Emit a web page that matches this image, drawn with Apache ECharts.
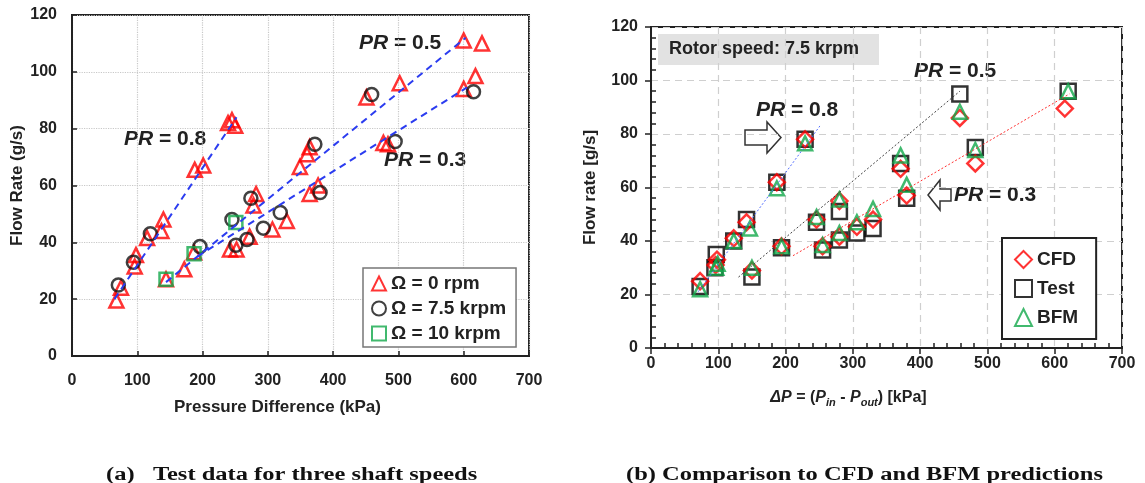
<!DOCTYPE html>
<html>
<head>
<meta charset="utf-8">
<script src="https://cdn.jsdelivr.net/npm/echarts@6/dist/echarts.min.js"></script>
<style>
  html, body { margin: 0; padding: 0; background: #fff; }
  #chart { width: 1145px; height: 483px; }
</style>
</head>
<body>
<div id="chart"></div>
<script>
// ---- (a) test data, [pressure difference kPa, flow rate g/s]
var rpm0 = [
    [68, 19.5], [75, 24], [96, 31.5], [98, 35.5], [115, 41.5], [137, 44], [140, 48],
    [188, 65.5], [201, 67], [239, 82], [245, 83], [250, 81],
    [144, 27], [172, 30.5], [187, 36.5], [278, 53], [282, 57], [349, 66.5], [360, 71],
    [364, 73.5], [451, 91], [502, 96], [600, 111], [628, 110],
    [242, 37.5], [252, 37.5], [272, 42], [307, 44.5], [329, 47.5], [364, 57], [377, 60],
    [477, 75], [484, 74.5], [600, 94], [618, 98.5]
];
var krpm75 = [
    [71, 25], [94, 33], [120, 43], [196, 38.5], [245, 48], [251, 39], [268, 41],
    [274, 55.5], [293, 45], [319, 50.5], [372, 74.5], [380, 57.5], [459, 92],
    [495, 75.5], [615, 93]
];
var krpm10 = [[144, 27], [187, 36], [251, 47]];
var fitPR08 = [[65, 20], [252, 84]];
var fitPR05 = [[144, 26], [603, 112]];
var fitPR03 = [[192, 35], [605, 94.5]];

// ---- (b) comparison at 7.5 krpm
var testPts = [
    [73, 23], [97, 35], [95, 30], [123, 40], [142, 48], [150, 26.5], [187, 62], [194, 37.5],
    [229, 78], [246, 47], [255, 36.6], [280, 51], [280, 40.4], [306, 43], [330, 44.7],
    [371, 69], [380, 56], [459, 95], [482, 75], [620, 96]
];
var cfdPts = [
    [73, 25], [98, 33], [96, 31], [123, 41], [142, 47], [150, 29], [187, 62], [194, 38],
    [229, 78], [246, 48], [255, 38], [280, 55], [280, 41.6], [306, 45.3], [330, 48],
    [371, 67], [380, 57], [459, 86], [482, 69], [615, 89.5]
];
var bfmPts = [
    [73, 22], [97, 30], [99, 31.5], [123, 40], [147, 44.7], [150, 30], [187, 59.7], [194, 38],
    [229, 76.5], [246, 49], [255, 38.5], [280, 55.5], [280, 43], [306, 47], [330, 52],
    [371, 72], [380, 61], [459, 88.3], [482, 74], [620, 96]
];
var linePR08 = [[70, 21], [251, 83]];
var linePR05 = [[130, 26.5], [459, 96]];
var linePR03 = [[211, 34.5], [622, 95]];

var xTicks = [0, 700, 100];
var yTicks = [0, 120, 20];

var FONT = 'Liberation Sans, Arial, sans-serif';
var SERIF = 'Liberation Serif, Times New Roman, serif';
var TXT = '#222';

var myChart = echarts.init(document.getElementById('chart'));

function hollow(color, w) {
    return { color: 'rgba(0,0,0,0)', borderColor: color, borderWidth: w };
}
// "PR = x" annotation, PR in italics
function prLabel(x, y, size, val) {
    return {
        type: 'text', left: x, top: y,
        style: {
            text: '{i|PR} = ' + val, fill: TXT,
            font: 'bold ' + size + 'px ' + FONT,
            rich: { i: { fontStyle: 'italic', fontWeight: 'bold', fontSize: size, fontFamily: FONT, fill: TXT } }
        }
    };
}
function caption(x, txt) {
    return {
        type: 'text', x: x, y: 466, scaleX: 1.36,
        style: { text: txt, fill: '#111', font: 'bold 18px ' + SERIF }
    };
}

var option = {
    animation: false,
    backgroundColor: '#fff',
    grid: [
        { left: 72, top: 15, width: 457, height: 341, show: true, borderColor: '#222', borderWidth: 2, backgroundColor: 'transparent' },
        { left: 651, top: 27, width: 471, height: 321, show: true, borderColor: '#222', borderWidth: 2, backgroundColor: 'transparent' }
    ],
    xAxis: [
        {
            gridIndex: 0, type: 'value', min: xTicks[0], max: xTicks[1], interval: xTicks[2],
            name: 'Pressure Difference (kPa)', nameLocation: 'middle', nameGap: 43,
            nameTextStyle: { fontFamily: FONT, fontWeight: 'bold', fontSize: 17, color: TXT, padding: [0, 46, 0, 0] },
            axisLine: { lineStyle: { color: '#222', width: 2 } },
            axisTick: { inside: true, length: 5, lineStyle: { color: '#222', width: 1.5 } },
            axisLabel: { margin: 17, fontFamily: FONT, fontWeight: 'bold', fontSize: 16, color: TXT },
            splitLine: { lineStyle: { color: '#c8c8c8', type: 'dotted', width: 1.2 } }
        },
        {
            gridIndex: 1, type: 'value', min: xTicks[0], max: xTicks[1], interval: xTicks[2], position: 'bottom',
            name: '{i|ΔP} = ({i|P}{s|in} - {i|P}{s|out}) [kPa]', nameLocation: 'middle', nameGap: 40,
            nameTextStyle: {
                fontFamily: FONT, fontWeight: 'bold', fontSize: 16, color: TXT, padding: [0, 76, 0, 0],
                rich: {
                    i: { fontStyle: 'italic', fontWeight: 'bold', fontSize: 16, fontFamily: FONT, color: TXT, lineHeight: 20 },
                    s: { fontStyle: 'italic', fontWeight: 'bold', fontSize: 11, fontFamily: FONT, color: TXT, lineHeight: 11, verticalAlign: 'bottom' }
                }
            },
            axisLine: { lineStyle: { color: '#222', width: 2 } },
            axisTick: { length: 6, lineStyle: { color: '#222', width: 1.5 } },
            axisLabel: { margin: 8, fontFamily: FONT, fontWeight: 'bold', fontSize: 16, color: TXT },
            splitLine: { lineStyle: { color: '#cfcfcf', type: [7, 5], width: 1.2 } }
        },
        {
            // minor ticks pointing inward
            gridIndex: 1, type: 'value', min: xTicks[0], max: xTicks[1], interval: xTicks[2], position: 'bottom',
            axisLine: { show: false }, axisLabel: { show: false }, splitLine: { show: false },
            axisTick: { show: false, inside: true },
            minorTick: { show: true, splitNumber: 5, length: 5, lineStyle: { color: '#222', width: 1.5 } }
        }
    ],
    yAxis: [
        {
            gridIndex: 0, type: 'value', min: yTicks[0], max: yTicks[1], interval: yTicks[2],
            name: 'Flow Rate (g/s)', nameLocation: 'middle', nameGap: 46,
            nameTextStyle: { fontFamily: FONT, fontWeight: 'bold', fontSize: 17, color: TXT },
            axisLine: { lineStyle: { color: '#222', width: 2 } },
            axisTick: { inside: true, length: 5, lineStyle: { color: '#222', width: 1.5 } },
            axisLabel: { margin: 15, fontFamily: FONT, fontWeight: 'bold', fontSize: 16, color: TXT },
            splitLine: { lineStyle: { color: '#c8c8c8', type: 'dotted', width: 1.2 } }
        },
        {
            gridIndex: 1, type: 'value', min: yTicks[0], max: yTicks[1], interval: yTicks[2], position: 'left',
            name: 'Flow rate [g/s]', nameLocation: 'middle', nameGap: 52,
            nameTextStyle: { fontFamily: FONT, fontWeight: 'bold', fontSize: 17, color: TXT },
            axisLine: { lineStyle: { color: '#222', width: 2 } },
            axisTick: { length: 6, lineStyle: { color: '#222', width: 1.5 } },
            axisLabel: { margin: 13, fontFamily: FONT, fontWeight: 'bold', fontSize: 16, color: TXT },
            splitLine: { lineStyle: { color: '#cfcfcf', type: [7, 5], width: 1.2 } }
        },
        {
            gridIndex: 1, type: 'value', min: yTicks[0], max: yTicks[1], interval: yTicks[2], position: 'left',
            axisLine: { show: false }, axisLabel: { show: false }, splitLine: { show: false },
            axisTick: { show: false, inside: true },
            minorTick: { show: true, splitNumber: 5, length: 5, lineStyle: { color: '#222', width: 1.5 } }
        }
    ],
    legend: [
        {
            data: ['Ω = 0 rpm', 'Ω = 7.5 krpm', 'Ω = 10 krpm'],
            orient: 'vertical', left: 363, top: 268, padding: [6, 10, 4, 8], itemGap: 6,
            itemWidth: 14, itemHeight: 14, itemTextGap: 6,
            borderColor: '#777', borderWidth: 1.5, backgroundColor: '#fff',
            textStyle: { fontFamily: FONT, fontWeight: 'bold', fontSize: 19, color: TXT }
        },
        {
            data: ['CFD', 'Test', 'BFM'],
            orient: 'vertical', left: 1002, top: 238, padding: [12, 18, 12, 12], itemGap: 10,
            itemWidth: 17, itemHeight: 17, itemTextGap: 14,
            borderColor: '#222', borderWidth: 2, backgroundColor: '#fff',
            textStyle: { fontFamily: FONT, fontWeight: 'bold', fontSize: 19, color: TXT }
        }
    ],
    series: [
        { type: 'line', xAxisIndex: 0, yAxisIndex: 0, data: fitPR08, symbol: 'none', silent: true, lineStyle: { color: '#2b3cf0', width: 2, type: [7, 5] } },
        { type: 'line', xAxisIndex: 0, yAxisIndex: 0, data: fitPR05, symbol: 'none', silent: true, lineStyle: { color: '#2b3cf0', width: 2, type: [7, 5] } },
        { type: 'line', xAxisIndex: 0, yAxisIndex: 0, data: fitPR03, symbol: 'none', silent: true, lineStyle: { color: '#2b3cf0', width: 2, type: [7, 5] } },
        { name: 'Ω = 0 rpm', type: 'scatter', xAxisIndex: 0, yAxisIndex: 0, data: rpm0, symbol: 'triangle', symbolSize: 14, itemStyle: hollow('#ff0000', 2.5) },
        { name: 'Ω = 7.5 krpm', type: 'scatter', xAxisIndex: 0, yAxisIndex: 0, data: krpm75, symbol: 'circle', symbolSize: 13, itemStyle: hollow('#111', 2.5) },
        { name: 'Ω = 10 krpm', type: 'scatter', xAxisIndex: 0, yAxisIndex: 0, data: krpm10, symbol: 'rect', symbolSize: 13, itemStyle: hollow('#12a84a', 2.5) },

        { type: 'line', xAxisIndex: 1, yAxisIndex: 1, data: linePR08, symbol: 'none', silent: true, lineStyle: { color: '#5570ff', width: 1, type: [2, 2] } },
        { type: 'line', xAxisIndex: 1, yAxisIndex: 1, data: linePR05, symbol: 'none', silent: true, lineStyle: { color: '#444', width: 1, type: [2, 2] } },
        { type: 'line', xAxisIndex: 1, yAxisIndex: 1, data: linePR03, symbol: 'none', silent: true, lineStyle: { color: '#ff3030', width: 1, type: [2, 2] } },
        { name: 'Test', type: 'scatter', xAxisIndex: 1, yAxisIndex: 1, data: testPts, symbol: 'rect', symbolSize: 15, itemStyle: hollow('#000', 2.5) },
        { name: 'CFD', type: 'scatter', xAxisIndex: 1, yAxisIndex: 1, data: cfdPts, symbol: 'diamond', symbolSize: 16, itemStyle: hollow('#ff0000', 2.5) },
        { name: 'BFM', type: 'scatter', xAxisIndex: 1, yAxisIndex: 1, data: bfmPts, symbol: 'triangle', symbolSize: 14, itemStyle: hollow('#12a84a', 2.5) }
    ],
    graphic: [
        prLabel(124, 129, 21, '0.8'),
        prLabel(359, 33, 21, '0.5'),
        prLabel(384, 150, 21, '0.3'),
        { type: 'rect', shape: { x: 658, y: 34, width: 221, height: 31 }, style: { fill: '#e2e2e2' } },
        { type: 'text', left: 669, top: 40, style: { text: 'Rotor speed: 7.5 krpm', fill: TXT, font: 'bold 18px ' + FONT } },
        prLabel(756, 100, 21, '0.8'),
        prLabel(914, 61, 21, '0.5'),
        prLabel(954, 185, 21, '0.3'),
        {
            type: 'polygon',
            shape: { points: [[745, 130], [767, 130], [767, 122], [781, 137.5], [767, 153], [767, 145], [745, 145]] },
            style: { fill: '#fff', stroke: '#333', lineWidth: 1.5 }
        },
        {
            type: 'polygon',
            shape: { points: [[951, 189], [940, 189], [940, 180], [928, 195], [940, 210], [940, 201], [951, 201]] },
            style: { fill: '#fff', stroke: '#333', lineWidth: 1.5 }
        },
        caption(106, '(a)   Test data for three shaft speeds'),
        caption(626, '(b) Comparison to CFD and BFM predictions')
    ]
};

myChart.setOption(option);
</script>
</body>
</html>
